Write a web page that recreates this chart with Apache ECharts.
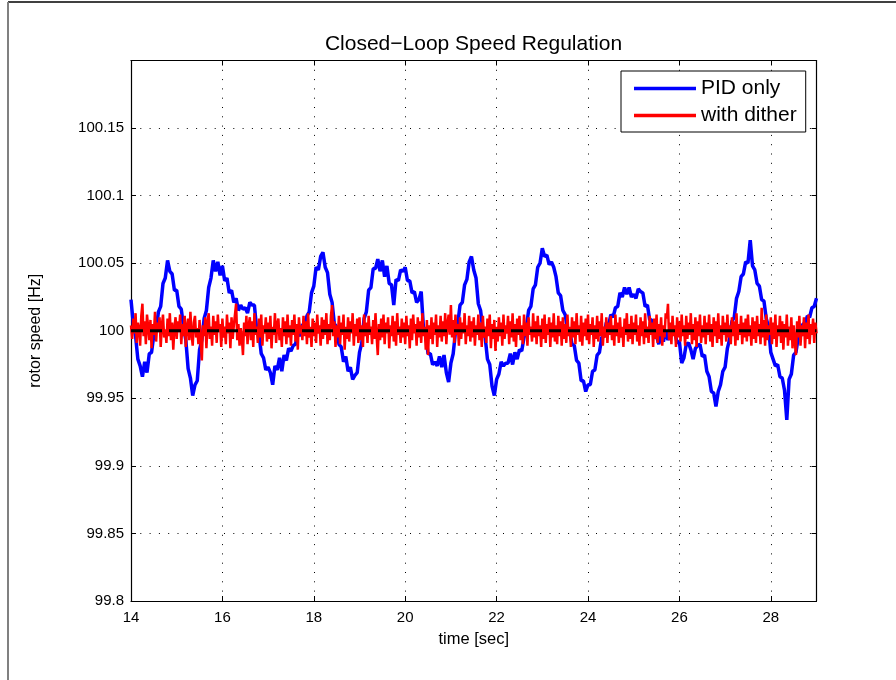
<!DOCTYPE html>
<html>
<head>
<meta charset="utf-8">
<script src="https://cdn.jsdelivr.net/npm/echarts@6/dist/echarts.min.js"></script>
<style>html,body{margin:0;padding:0;background:#fff}#c{width:896px;height:680px}</style>
</head>
<body>
<div id="c"></div>
<script>
// sampling grids (seconds)
const tStart = 14;
const pidStep = 0.05;
const ditherStep = 0.025;
const xTicks = [14, 16, 18, 20, 22, 24, 26, 28];
const yTicks = [99.8, 99.85, 99.9, 99.95, 100, 100.05, 100.1, 100.15];
const setpoint = 100;
const seriesNames = ['PID only', 'with dither'];

// PID only (blue), 0.05 s samples, one row per second
const pidOnly = [
100.023,100.005,99.996,99.979,99.974,99.966,99.977,99.969,99.983,99.984,99.997,100.000,100.014,100.018,100.035,100.039,100.052,100.044,100.042,100.030,
100.030,100.018,100.016,100.003,99.993,99.972,99.965,99.952,99.960,99.963,99.986,99.993,100.009,100.015,100.032,100.039,100.052,100.044,100.051,100.041,
100.048,100.037,100.039,100.028,100.030,100.021,100.024,100.015,100.019,100.016,100.017,100.013,100.021,100.019,100.019,100.001,99.998,99.983,99.980,99.971,
99.973,99.969,99.960,99.974,99.971,99.980,99.970,99.982,99.978,99.987,99.985,99.989,99.990,99.999,99.996,100.005,100.001,100.011,100.014,100.028,
100.033,100.047,100.045,100.055,100.058,100.047,100.043,100.027,100.021,100.005,100.003,99.990,99.988,99.977,99.981,99.970,99.973,99.964,99.967,99.969,
99.984,99.991,100.009,100.014,100.030,100.032,100.046,100.046,100.053,100.044,100.052,100.040,100.048,100.035,100.034,100.019,100.038,100.037,100.045,100.044,
100.047,100.037,100.037,100.028,100.029,100.021,100.023,100.029,100.002,99.997,99.983,99.983,99.975,99.977,99.974,99.981,99.973,99.982,99.969,99.962,
99.976,99.983,99.999,100.005,100.019,100.021,100.034,100.038,100.051,100.055,100.045,100.039,100.020,100.015,100.000,99.995,99.979,99.975,99.959,99.952,
99.964,99.968,99.977,99.974,99.976,99.976,99.983,99.975,99.984,99.979,99.986,99.985,99.995,100.002,100.015,100.018,100.031,100.034,100.047,100.050,
100.061,100.055,100.056,100.049,100.051,100.047,100.040,100.028,100.026,100.015,100.012,100.001,100.000,99.990,99.989,99.978,99.976,99.963,99.963,99.955,
99.960,99.960,99.970,99.971,99.982,99.984,99.995,99.996,100.006,100.004,100.012,100.010,100.017,100.018,100.028,100.025,100.032,100.027,100.032,100.025,
100.027,100.024,100.031,100.029,100.028,100.018,100.019,100.008,100.008,99.997,99.996,99.990,99.998,99.992,100.000,99.993,100.001,99.998,99.999,99.991,
99.992,99.976,99.980,99.990,99.991,99.986,99.979,99.987,99.989,99.990,99.981,99.982,99.970,99.966,99.955,99.954,99.944,99.955,99.960,99.970,
99.973,99.987,99.994,100.007,100.010,100.024,100.029,100.040,100.042,100.051,100.050,100.067,100.048,100.045,100.035,100.033,100.023,100.022,100.009,100.003,
99.984,99.979,99.974,99.975,99.966,99.965,99.956,99.934,99.964,99.968,99.982,99.984,99.995,99.996,100.005,100.005,100.011,100.010,100.017,100.018,
100.024
];

// with dither (red), 0.025 s samples, one row per half second
const withDither = [
100.004,99.994,100.009,99.998,100.013,99.991,100.006,100.002,99.989,100.011,100.020,99.996,100.007,99.990,100.012,100.003,99.993,100.008,99.987,100.005,
99.997,100.014,99.992,100.006,99.999,100.010,99.988,100.004,100.012,99.995,100.001,99.991,100.009,99.996,100.013,99.993,100.006,99.986,100.002,100.010,
99.994,100.007,99.999,100.012,99.990,100.005,99.996,100.011,99.988,100.003,100.009,99.993,100.014,99.998,99.989,100.006,100.011,99.995,100.002,99.990,
100.008,99.992,99.978,100.004,99.996,100.010,99.987,100.006,100.013,99.994,100.003,99.989,100.011,99.997,100.007,99.991,100.012,99.999,100.005,99.988,
100.009,99.995,100.003,99.990,100.012,99.998,100.006,99.987,100.010,99.994,100.004,100.012,100.020,99.993,100.005,99.989,100.002,99.995,99.982,100.006,
99.996,100.011,99.990,100.004,100.010,99.993,100.007,99.988,100.013,99.997,100.003,99.991,100.009,99.995,100.012,99.989,100.004,99.998,100.010,99.992,
100.006,99.994,100.011,99.987,100.003,99.997,100.013,99.991,100.005,100.009,99.993,100.002,99.988,100.010,99.996,100.007,99.990,100.012,99.995,100.004,
99.989,100.008,99.997,100.012,99.992,100.005,99.986,100.010,99.998,100.004,99.993,100.011,99.996,100.007,99.990,100.013,99.995,100.003,99.988,100.009,
99.996,100.006,99.991,100.012,99.998,100.004,99.989,100.010,99.994,100.008,99.997,100.013,99.990,100.005,99.993,100.011,100.019,99.996,100.007,99.988,
100.004,99.995,100.011,99.990,100.006,99.997,100.012,99.986,100.003,99.994,100.010,99.992,100.007,99.998,100.013,99.989,100.005,99.996,100.009,99.991,
100.010,99.993,100.004,99.988,100.012,99.996,100.006,99.991,100.011,99.997,100.003,99.990,100.008,99.994,100.013,99.996,99.982,100.005,99.993,100.009,
99.995,100.012,99.990,100.006,99.998,100.010,99.987,100.004,99.996,100.011,99.992,100.007,99.989,100.013,99.997,100.003,99.991,100.009,99.995,100.006,
99.990,100.011,99.996,100.004,99.987,100.009,99.993,100.012,99.998,100.005,99.989,100.010,99.995,100.007,99.991,100.013,99.996,100.003,99.986,100.008,
99.982,100.004,99.994,100.010,99.990,100.006,99.997,100.012,99.988,100.004,99.995,100.011,99.992,100.007,99.996,100.013,99.990,100.005,100.012,99.997,
100.019,99.995,100.008,99.991,100.012,99.997,100.005,99.989,100.010,99.994,100.006,99.998,100.013,99.990,100.004,99.996,100.011,99.992,100.007,99.995,
100.010,99.989,100.004,99.997,100.012,99.993,100.006,99.988,100.011,99.995,100.003,99.991,100.009,99.996,100.012,99.987,100.005,99.994,100.008,99.985,
100.003,99.992,100.010,99.996,100.006,99.989,100.012,99.994,100.004,99.998,100.011,99.990,100.007,99.995,100.013,99.992,100.005,99.988,100.009,99.997,
100.011,99.993,100.004,99.990,100.012,99.996,100.006,99.989,100.010,99.997,100.003,99.992,100.013,99.995,100.007,99.990,100.011,99.996,100.004,99.988,
100.009,99.994,100.012,99.991,100.005,99.997,100.010,99.988,100.006,99.995,100.013,99.992,100.004,99.990,100.011,99.996,100.007,99.989,100.010,99.994,
100.005,99.991,100.012,99.996,100.003,99.988,100.010,99.995,100.007,99.990,100.013,99.997,100.004,99.992,100.011,99.989,100.006,99.996,100.009,99.993,
100.012,99.990,100.005,99.997,100.010,99.988,100.004,99.994,100.011,99.992,100.007,99.996,100.013,99.989,100.003,99.995,100.010,99.991,100.006,99.997,
100.011,99.993,100.004,99.989,100.012,99.996,100.006,99.991,100.010,99.995,100.003,99.988,100.009,99.997,100.013,99.992,100.005,99.994,100.011,99.990,
100.006,99.997,100.012,99.992,100.004,99.989,100.010,99.996,100.007,99.990,100.013,99.995,100.003,99.991,100.011,99.997,100.006,99.988,100.009,99.994,
100.012,99.991,100.005,99.996,100.010,99.989,100.004,99.995,100.013,100.009,100.020,99.993,100.006,99.990,100.011,99.996,100.004,99.988,100.010,99.995,
100.007,99.992,100.012,99.996,100.004,99.989,100.011,99.994,100.006,99.997,100.013,99.990,100.005,99.993,100.010,99.988,100.007,99.996,100.012,99.991,
100.004,99.995,100.011,99.990,100.006,99.997,100.012,99.992,100.005,99.988,100.010,99.996,100.007,99.991,100.013,99.994,100.004,99.989,100.011,99.997,
100.006,99.992,100.012,99.995,100.004,99.990,100.010,99.996,100.007,99.989,100.013,99.993,100.005,99.997,100.011,99.990,100.006,99.995,100.009,99.992,
100.012,99.996,100.004,99.989,100.010,99.994,100.007,99.991,100.011,99.996,100.005,99.990,100.017,99.995,100.008,99.989,100.012,99.993,100.004,99.997,
100.010,99.990,100.006,99.994,100.012,99.988,100.004,99.996,100.011,99.991,100.007,99.986,100.005,99.995,100.012,99.989,100.003,99.993,100.010,99.987,
100.004,99.992,99.982,100.007,99.995,100.011,99.989,100.004,99.996,100.010,99.987,100.006,99.994,100.012,99.990,100.005,99.997,100.009,99.991,100.006,
99.998
];

const toPairs = (arr, step) => arr.map((v, i) => [+(tStart + i * step).toFixed(3), v]);
const xMin = xTicks[0], xMax = 29, xInt = xTicks[1] - xTicks[0];
const yMin = yTicks[0], yMax = 100.2, yInt = 0.05;

const FONT = 'Liberation Sans, Arial, Helvetica, sans-serif';
const chart = echarts.init(document.getElementById('c'), null, {renderer: 'canvas'});

const baseX = {
  type: 'value', min: xMin, max: xMax, interval: xInt,
  axisLine: {show: true, onZero: false, lineStyle: {color: '#000', width: 1.2}},
  axisTick: {show: true, inside: true, length: 5, lineStyle: {color: '#000', width: 1}},
  splitLine: {show: false}
};
const baseY = {
  type: 'value', min: yMin, max: yMax, interval: yInt,
  axisLine: {show: true, onZero: false, lineStyle: {color: '#000', width: 1.2}},
  axisTick: {show: true, inside: true, length: 5, lineStyle: {color: '#000', width: 1}},
  splitLine: {show: false}
};

chart.setOption({
  animation: false,
  backgroundColor: '#fff',
  title: {
    text: 'Closed\u2212Loop Speed Regulation',
    left: 468.5, top: 29, textAlign: 'center',
    textStyle: {fontFamily: FONT, fontSize: 21, fontWeight: 'normal', color: '#000'}
  },
  grid: {left: 131, right: 79.5, top: 60.5, bottom: 79},
  legend: {
    data: seriesNames,
    orient: 'vertical',
    left: 621, top: 71,
    icon: 'rect', itemWidth: 62, itemHeight: 3.5, itemGap: 6,
    padding: [7, 9, 6, 13],
    borderColor: '#000', borderWidth: 1, backgroundColor: '#fff',
    textStyle: {fontFamily: FONT, fontSize: 21, color: '#000'}
  },
  xAxis: [
    Object.assign({}, baseX, {
      position: 'bottom',
      name: 'time [sec]', nameLocation: 'middle', nameGap: 30,
      nameTextStyle: {fontFamily: FONT, fontSize: 16.5, color: '#000'},
      axisLabel: {show: true, margin: 9, fontFamily: FONT, fontSize: 15, color: '#000',
        formatter: v => (xTicks.indexOf(v) >= 0 ? String(v) : '')},
      splitLine: {show: true, lineStyle: {color: '#000', width: 1, type: [1, 8.3]}}
    }),
    Object.assign({}, baseX, {position: 'top', axisLabel: {show: false}})
  ],
  yAxis: [
    Object.assign({}, baseY, {
      position: 'left',
      name: 'rotor speed [Hz]', nameLocation: 'middle', nameGap: 87, nameRotate: 90,
      nameTextStyle: {fontFamily: FONT, fontSize: 16, color: '#000'},
      axisLabel: {show: true, margin: 7, fontFamily: FONT, fontSize: 15, color: '#000',
        formatter: v => {
          const hit = yTicks.find(t => Math.abs(t - v) < 1e-9);
          return hit === undefined ? '' : String(hit);
        }},
      splitLine: {show: true, lineStyle: {color: '#000', width: 1, type: [1, 8.3]}}
    }),
    Object.assign({}, baseY, {position: 'right', axisLabel: {show: false}})
  ],
  graphic: [
    {type: 'line', shape: {x1: 8, y1: 2, x2: 896, y2: 2}, style: {stroke: '#000', lineWidth: 1.5}, z: 100},
    {type: 'line', shape: {x1: 8, y1: 2, x2: 8, y2: 680}, style: {stroke: '#808080', lineWidth: 2}, z: 100}
  ],
  series: [
    {
      name: seriesNames[0], type: 'line', data: toPairs(pidOnly, pidStep),
      showSymbol: false, symbol: 'none', silent: true,
      lineStyle: {color: '#0000ff', width: 3.5}, itemStyle: {color: '#0000ff'}
    },
    {
      name: seriesNames[1], type: 'line', data: toPairs(withDither, ditherStep),
      showSymbol: false, symbol: 'none', silent: true,
      lineStyle: {color: '#ff0000', width: 2.5}, itemStyle: {color: '#ff0000'}
    },
    {
      name: 'setpoint', type: 'line', data: [[xMin, setpoint], [xMax, setpoint]],
      showSymbol: false, symbol: 'none', silent: true,
      lineStyle: {color: '#000', width: 3, type: [12, 7]}, itemStyle: {color: '#000'}
    }
  ]
});
</script>
</body>
</html>
